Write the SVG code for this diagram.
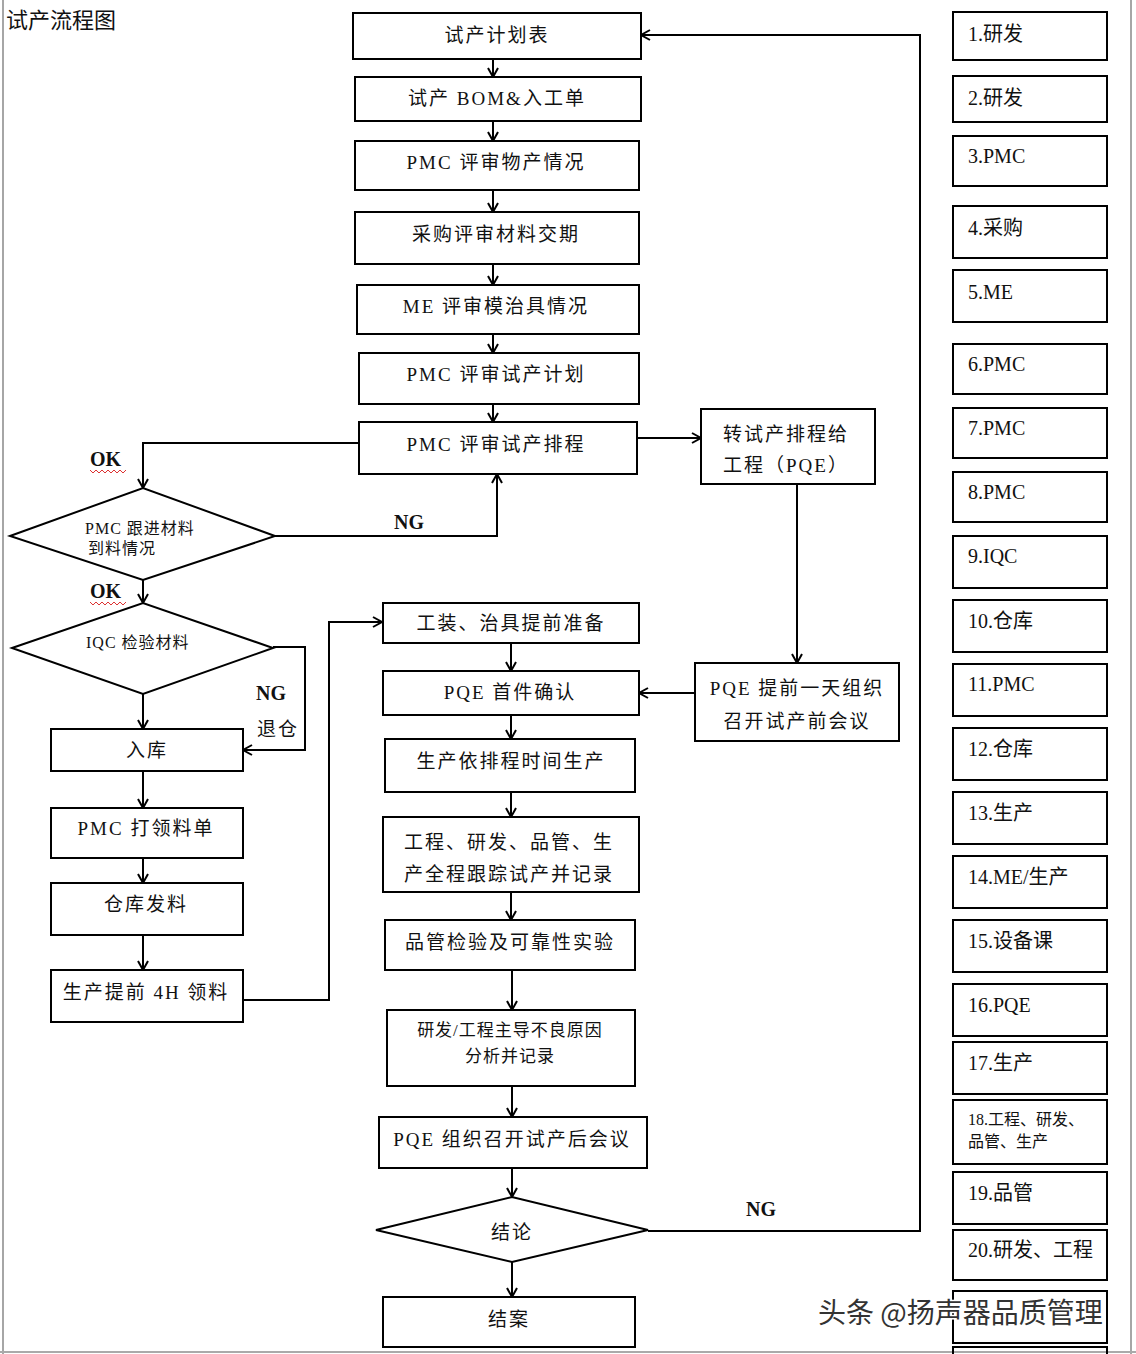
<svg xmlns="http://www.w3.org/2000/svg" width="1136" height="1354" viewBox="0 0 1136 1354">
<style>
.b{fill:#fff;stroke:#000;stroke-width:2}
.t{font-family:"Liberation Serif","Noto Sans CJK SC",serif;font-size:19px;fill:#111;letter-spacing:2px}
.c{text-anchor:middle}
.r{font-family:"Liberation Serif","Noto Sans CJK SC",serif;font-size:20px;fill:#111}
.d{font-family:"Liberation Serif","Noto Sans CJK SC",serif;font-size:16px;fill:#111;letter-spacing:1px}
.lb{font-family:"Liberation Serif",serif;font-size:20px;font-weight:bold;fill:#111}
.ln{fill:none;stroke:#000;stroke-width:2}
.sq{fill:none;stroke:#d33;stroke-width:1}
</style>
<defs>
<marker id="a" markerUnits="userSpaceOnUse" markerWidth="14" markerHeight="14" refX="10" refY="6" orient="auto">
<path d="M1,1 L10,6 L1,11" fill="none" stroke="#000" stroke-width="2"/>
</marker>
</defs>
<rect width="1136" height="1354" fill="#fff"/>
<g id="frame">
<line x1="3" y1="0" x2="3" y2="1354" stroke="#888" stroke-width="1.5"/>
<line x1="1131" y1="0" x2="1131" y2="1354" stroke="#888" stroke-width="1.5"/>
<line x1="0" y1="1352" x2="1136" y2="1352" stroke="#aaa" stroke-width="2"/>
</g>
<text x="6" y="28" font-family="'Noto Sans CJK SC',sans-serif" font-size="22" fill="#111">试产流程图</text>

<g id="connectors">
<line class="ln" x1="493" y1="59" x2="493" y2="77" marker-end="url(#a)"/>
<line class="ln" x1="493" y1="121" x2="493" y2="141" marker-end="url(#a)"/>
<line class="ln" x1="493" y1="190" x2="493" y2="212" marker-end="url(#a)"/>
<line class="ln" x1="493" y1="264" x2="493" y2="285" marker-end="url(#a)"/>
<line class="ln" x1="493" y1="334" x2="493" y2="353" marker-end="url(#a)"/>
<line class="ln" x1="493" y1="404" x2="493" y2="422" marker-end="url(#a)"/>
<line class="ln" x1="637" y1="438" x2="701" y2="438" marker-end="url(#a)"/>
<polyline class="ln" points="359,443 143,443 143,488" marker-end="url(#a)"/>
<polyline class="ln" points="275,536 497,536 497,474" marker-end="url(#a)"/>
<line class="ln" x1="143" y1="580" x2="143" y2="603" marker-end="url(#a)"/>
<polyline class="ln" points="273,647 305,647 305,750 243,750" marker-end="url(#a)"/>
<line class="ln" x1="143" y1="694" x2="143" y2="729" marker-end="url(#a)"/>
<line class="ln" x1="143" y1="771" x2="143" y2="808" marker-end="url(#a)"/>
<line class="ln" x1="143" y1="858" x2="143" y2="883" marker-end="url(#a)"/>
<line class="ln" x1="143" y1="935" x2="143" y2="970" marker-end="url(#a)"/>
<polyline class="ln" points="243,1000 329,1000 329,622 382,622" marker-end="url(#a)"/>
<line class="ln" x1="797" y1="484" x2="797" y2="663" marker-end="url(#a)"/>
<line class="ln" x1="695" y1="693" x2="639" y2="693" marker-end="url(#a)"/>
<line class="ln" x1="511" y1="643" x2="511" y2="671" marker-end="url(#a)"/>
<line class="ln" x1="511" y1="715" x2="511" y2="739" marker-end="url(#a)"/>
<line class="ln" x1="511" y1="792" x2="511" y2="817" marker-end="url(#a)"/>
<line class="ln" x1="511" y1="892" x2="511" y2="920" marker-end="url(#a)"/>
<line class="ln" x1="512" y1="970" x2="512" y2="1010" marker-end="url(#a)"/>
<line class="ln" x1="512" y1="1086" x2="512" y2="1117" marker-end="url(#a)"/>
<line class="ln" x1="512" y1="1168" x2="512" y2="1197" marker-end="url(#a)"/>
<line class="ln" x1="512" y1="1262" x2="512" y2="1297" marker-end="url(#a)"/>
<polyline class="ln" points="648,1231 920,1231 920,35 641,35" marker-end="url(#a)"/>
<text class="lb" x="90" y="466">OK</text>
<path class="sq" d="M90,470 l3,3 l3,-3 l3,3 l3,-3 l3,3 l3,-3 l3,3 l3,-3 l3,3 l3,-3 l3,3 l3,-3"/>
<text class="lb" x="90" y="598">OK</text>
<path class="sq" d="M90,602 l3,3 l3,-3 l3,3 l3,-3 l3,3 l3,-3 l3,3 l3,-3 l3,3 l3,-3 l3,3 l3,-3"/>
<text class="lb" x="394" y="529">NG</text>
<text class="lb" x="256" y="700">NG</text>
<text class="r" x="257" y="736" style="font-size:19px;letter-spacing:2px">退仓</text>
<text class="lb" x="746" y="1216">NG</text>
</g>

<g id="n1"><rect class="b" x="353" y="13" width="288" height="46"/><text class="t c" x="497" y="42">试产计划表</text></g>
<g id="n2"><rect class="b" x="355" y="77" width="286" height="44"/><text class="t c" x="497" y="105">试产 BOM&amp;入工单</text></g>
<g id="n3"><rect class="b" x="355" y="141" width="284" height="49"/><text class="t c" x="496" y="169">PMC 评审物产情况</text></g>
<g id="n4"><rect class="b" x="355" y="212" width="284" height="52"/><text class="t c" x="496" y="241">采购评审材料交期</text></g>
<g id="n5"><rect class="b" x="357" y="285" width="282" height="49"/><text class="t c" x="496" y="313">ME 评审模治具情况</text></g>
<g id="n6"><rect class="b" x="359" y="353" width="280" height="51"/><text class="t c" x="496" y="381">PMC 评审试产计划</text></g>
<g id="n7"><rect class="b" x="359" y="422" width="278" height="52"/><text class="t c" x="496" y="451">PMC 评审试产排程</text></g>
<g id="n8"><rect class="b" x="701" y="409" width="174" height="75"/><text class="t" x="723" y="441">转试产排程给</text><text class="t" x="723" y="472">工程（PQE）</text></g>
<g id="d1"><polygon class="b" points="10,536 143,488 275,536 143,580"/><text class="d" x="85" y="534">PMC 跟进材料</text><text class="d" x="88" y="554">到料情况</text></g>
<g id="d2"><polygon class="b" points="12,648 143,603 273,648 143,694"/><text class="d" x="86" y="648">IQC 检验材料</text></g>
<g id="n9"><rect class="b" x="51" y="729" width="192" height="42"/><text class="t c" x="147" y="757">入库</text></g>
<g id="n10"><rect class="b" x="51" y="808" width="192" height="50"/><text class="t c" x="146" y="835">PMC 打领料单</text></g>
<g id="n11"><rect class="b" x="51" y="883" width="192" height="52"/><text class="t c" x="146" y="911">仓库发料</text></g>
<g id="n12"><rect class="b" x="51" y="970" width="192" height="52"/><text class="t c" x="146" y="999">生产提前 4H 领料</text></g>
<g id="n13"><rect class="b" x="383" y="603" width="256" height="40"/><text class="t c" x="511" y="630">工装、治具提前准备</text></g>
<g id="n14"><rect class="b" x="383" y="671" width="256" height="44"/><text class="t c" x="510" y="699">PQE 首件确认</text></g>
<g id="n15"><rect class="b" x="695" y="663" width="204" height="78"/><text class="t c" x="797" y="695">PQE 提前一天组织</text><text class="t c" x="797" y="728">召开试产前会议</text></g>
<g id="n16"><rect class="b" x="385" y="739" width="250" height="53"/><text class="t c" x="511" y="768">生产依排程时间生产</text></g>
<g id="n17"><rect class="b" x="383" y="817" width="256" height="75"/><text class="t c" x="509" y="849">工程、研发、品管、生</text><text class="t c" x="509" y="881">产全程跟踪试产并记录</text></g>
<g id="n18"><rect class="b" x="385" y="920" width="250" height="50"/><text class="t c" x="510" y="949">品管检验及可靠性实验</text></g>
<g id="n19"><rect class="b" x="387" y="1010" width="248" height="76"/><text class="d c" x="510" y="1036" style="font-size:17px">研发/工程主导不良原因</text><text class="d c" x="510" y="1062" style="font-size:17px">分析并记录</text></g>
<g id="n20"><rect class="b" x="379" y="1117" width="268" height="51"/><text class="t c" x="512" y="1146">PQE 组织召开试产后会议</text></g>
<g id="d3"><polygon class="b" points="376,1230 512,1197 648,1230 512,1262"/><text class="t c" x="512" y="1239">结论</text></g>
<g id="n21"><rect class="b" x="383" y="1297" width="252" height="50"/><text class="t c" x="509" y="1326">结案</text></g>

<g id="r1"><rect class="b" x="953" y="12" width="154" height="48"/><text class="r" x="968" y="41">1.研发</text></g>
<g id="r2"><rect class="b" x="953" y="76" width="154" height="46"/><text class="r" x="968" y="105">2.研发</text></g>
<g id="r3"><rect class="b" x="953" y="136" width="154" height="50"/><text class="r" x="968" y="163">3.PMC</text></g>
<g id="r4"><rect class="b" x="953" y="206" width="154" height="52"/><text class="r" x="968" y="235">4.采购</text></g>
<g id="r5"><rect class="b" x="953" y="270" width="154" height="52"/><text class="r" x="968" y="299">5.ME</text></g>
<g id="r6"><rect class="b" x="953" y="344" width="154" height="50"/><text class="r" x="968" y="371">6.PMC</text></g>
<g id="r7"><rect class="b" x="953" y="408" width="154" height="50"/><text class="r" x="968" y="435">7.PMC</text></g>
<g id="r8"><rect class="b" x="953" y="472" width="154" height="50"/><text class="r" x="968" y="499">8.PMC</text></g>
<g id="r9"><rect class="b" x="953" y="536" width="154" height="52"/><text class="r" x="968" y="563">9.IQC</text></g>
<g id="r10"><rect class="b" x="953" y="600" width="154" height="52"/><text class="r" x="968" y="628">10.仓库</text></g>
<g id="r11"><rect class="b" x="953" y="664" width="154" height="52"/><text class="r" x="968" y="691">11.PMC</text></g>
<g id="r12"><rect class="b" x="953" y="728" width="154" height="52"/><text class="r" x="968" y="756">12.仓库</text></g>
<g id="r13"><rect class="b" x="953" y="792" width="154" height="52"/><text class="r" x="968" y="820">13.生产</text></g>
<g id="r14"><rect class="b" x="953" y="856" width="154" height="52"/><text class="r" x="968" y="884">14.ME/生产</text></g>
<g id="r15"><rect class="b" x="953" y="920" width="154" height="52"/><text class="r" x="968" y="948">15.设备课</text></g>
<g id="r16"><rect class="b" x="953" y="984" width="154" height="52"/><text class="r" x="968" y="1012">16.PQE</text></g>
<g id="r17"><rect class="b" x="953" y="1042" width="154" height="52"/><text class="r" x="968" y="1070">17.生产</text></g>
<g id="r18"><rect class="b" x="953" y="1100" width="154" height="64"/><text class="r" x="968" y="1125" style="font-size:16px">18.工程、研发、</text><text class="r" x="968" y="1147" style="font-size:16px">品管、生产</text></g>
<g id="r19"><rect class="b" x="953" y="1172" width="154" height="52"/><text class="r" x="968" y="1200">19.品管</text></g>
<g id="r20"><rect class="b" x="953" y="1230" width="154" height="50"/><text class="r" x="968" y="1257">20.研发、工程</text></g>
<g id="r21"><rect class="b" x="953" y="1291" width="154" height="52"/></g>
<g id="r22"><path class="ln" d="M953,1354 V1347 H1107 V1354" stroke-width="3"/></g>

<text x="818" y="1323" font-family="'Noto Sans CJK SC',sans-serif" font-size="28" fill="#fff" stroke="#fff" stroke-width="3">头条 @扬声器品质管理</text>
<text x="818" y="1323" font-family="'Noto Sans CJK SC',sans-serif" font-size="28" fill="#333">头条 @扬声器品质管理</text>
</svg>
